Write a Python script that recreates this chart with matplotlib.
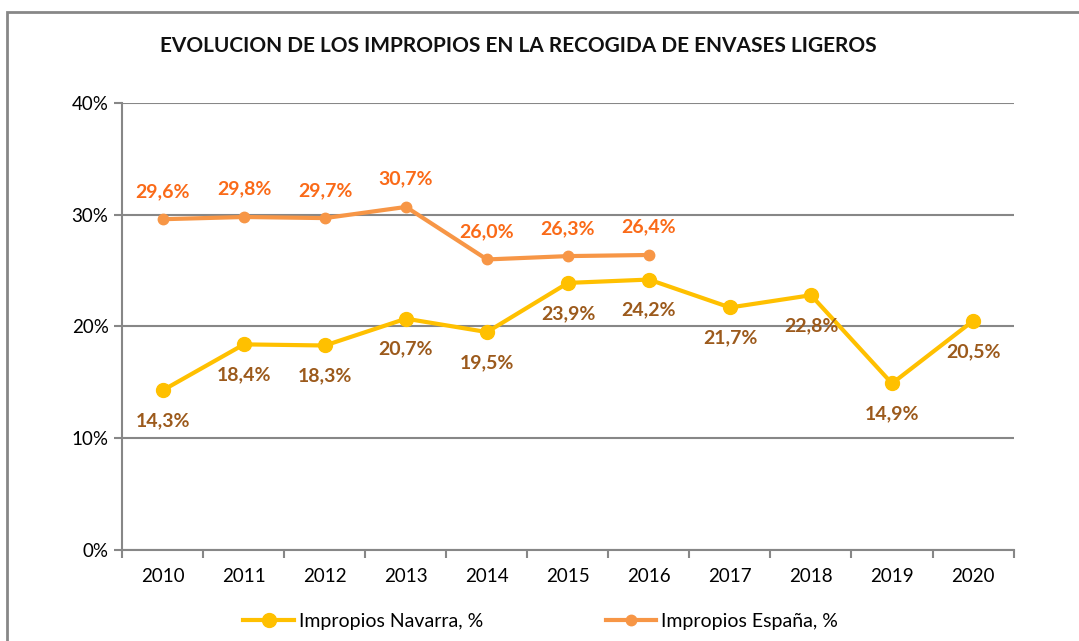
import matplotlib
matplotlib.use("Agg")
import matplotlib.pyplot as plt
from matplotlib.patches import Rectangle

years = ["2010", "2011", "2012", "2013", "2014", "2015", "2016",
         "2017", "2018", "2019", "2020"]
navarra = [14.3, 18.4, 18.3, 20.7, 19.5, 23.9, 24.2, 21.7, 22.8, 14.9, 20.5]
espana = [29.6, 29.8, 29.7, 30.7, 26.0, 26.3, 26.4]
y_ticks = [0, 10, 20, 30, 40]

title = "EVOLUCION DE LOS IMPROPIOS EN LA RECOGIDA DE ENVASES LIGEROS"
label_nav = "Impropios Navarra, %"
label_esp = "Impropios España, %"

plt.rcParams['font.family'] = ['Lato', 'DejaVu Sans']

grey = '#878787'
yellow = '#FFC000'
orange = '#F79646'

fig = plt.figure(figsize=(10.79, 6.41), dpi=100)
ax = fig.add_axes([0.1135, 0.1420, 0.8258, 0.6973])

# outer chart frame (only top and left edges fall inside the picture)
frame_top = 1 - 12 / 641
fig.patches.append(Rectangle((7 / 1079, -0.2), 1.2, frame_top + 0.2,
                             transform=fig.transFigure, fill=False,
                             edgecolor=grey, linewidth=2, clip_on=False))

x_nav = list(range(len(navarra)))
x_esp = list(range(len(espana)))

ax.plot(x_nav, navarra, color=yellow, linewidth=3, marker='o',
        markersize=10, zorder=3, label=label_nav)
ax.plot(x_esp, espana, color=orange, linewidth=3, marker='o',
        markersize=7.5, zorder=4, label=label_esp)

for x, v in zip(x_nav, navarra):
    ax.annotate(f"{v:.1f}%".replace('.', ','), (x, v), xytext=(0, -22),
                textcoords='offset points', ha='center', va='center',
                fontsize=14, fontweight='bold', color='#9C5A1C')
for x, v in zip(x_esp, espana):
    ax.annotate(f"{v:.1f}%".replace('.', ','), (x, v), xytext=(0, 20),
                textcoords='offset points', ha='center', va='center',
                fontsize=14, fontweight='bold', color='#FA6A18')

ax.set_xlim(-0.5, len(years) - 0.5)
ax.set_ylim(0, 40)
ax.set_yticks(y_ticks)
ax.set_yticklabels([f"{t}%" for t in y_ticks])
ax.set_xticks(x_nav)
ax.set_xticklabels(years)
ax.set_xticks([i - 0.5 for i in range(len(years) + 1)], minor=True)

ax.grid(axis='y', color=grey, linewidth=1.5)
ax.set_axisbelow(True)
for side in ['top', 'right']:
    ax.spines[side].set_visible(False)
for side in ['left', 'bottom']:
    ax.spines[side].set_color(grey)
    ax.spines[side].set_linewidth(1.5)

ax.tick_params(axis='x', which='major', length=0, pad=13, labelsize=13.5)
ax.tick_params(axis='x', which='minor', length=6, width=1.5, color=grey)
ax.tick_params(axis='y', length=6, width=1.5, color=grey, pad=4, labelsize=13.5)

fig.text(0.48, 0.928, title, ha='center', va='center',
         fontsize=15, fontweight='bold', color='#111111')

fig.legend(loc='center', bbox_to_anchor=(0.501, 0.03), ncol=2, frameon=False,
           fontsize=14, handlelength=2.6, columnspacing=6.3, handletextpad=0.25)

fig.savefig("out.png", dpi=100)
